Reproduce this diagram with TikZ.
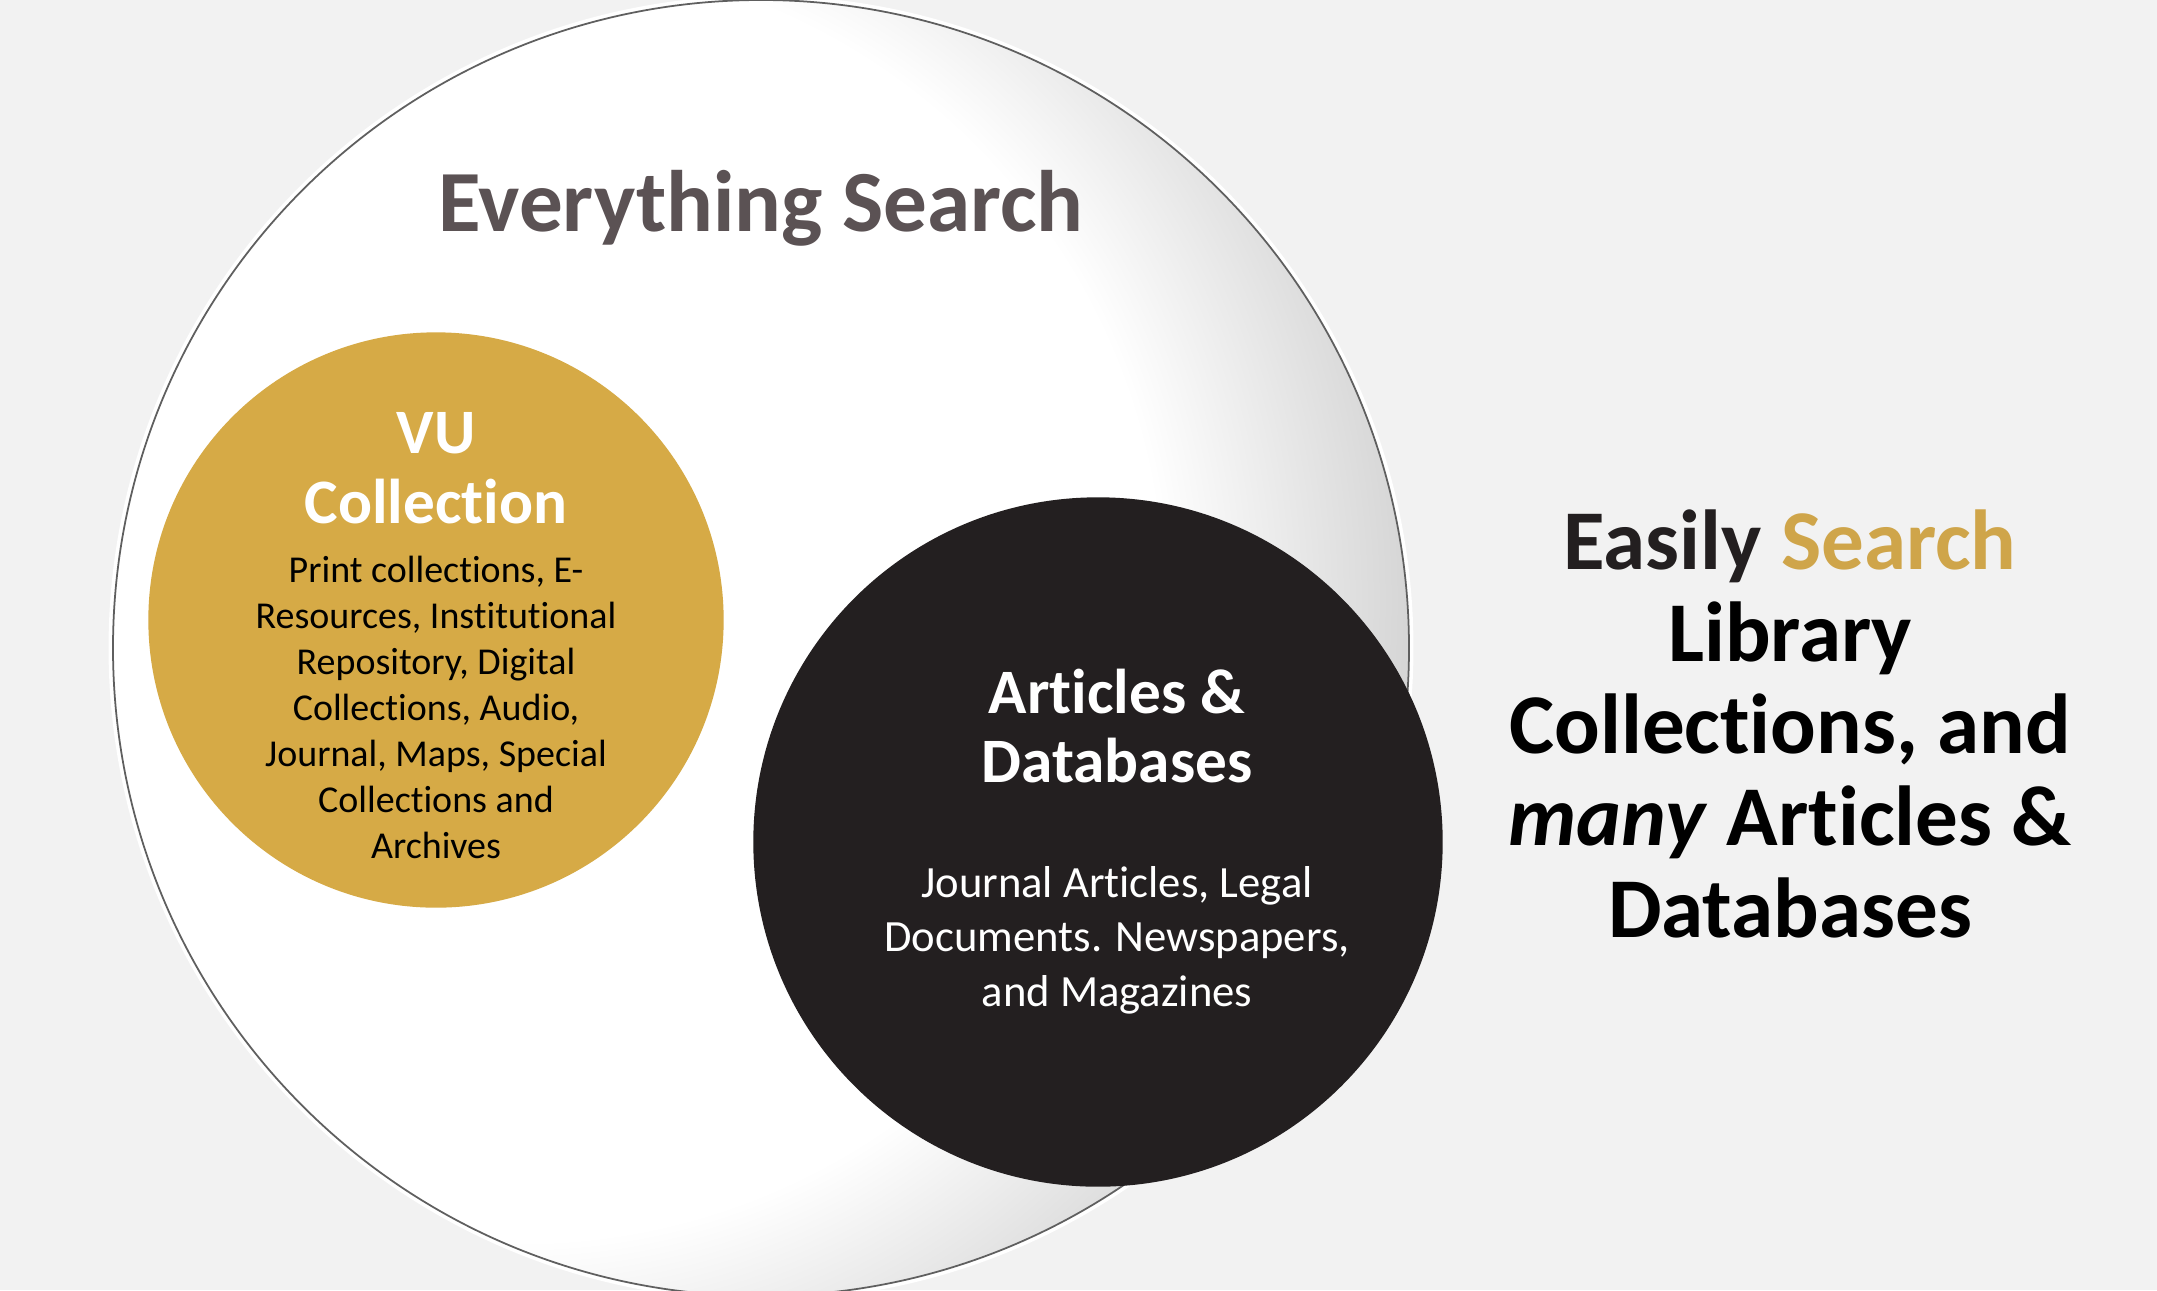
\documentclass[tikz,border=0pt]{standalone}
\usepackage{fontspec}
\setmainfont{Carlito}[Ligatures={NoCommon,NoRare,NoDiscretionary}]
\usetikzlibrary{positioning}

\definecolor{bgcol}{HTML}{F2F2F2}
\definecolor{vugold}{HTML}{D6AA46}
\definecolor{searchgold}{HTML}{CFA54A}
\definecolor{inkblack}{HTML}{231F20}
\definecolor{titlegray}{HTML}{5B5254}
\definecolor{ringline}{HTML}{5F5F5F}

\pgfdeclareradialshading{ringglow}{\pgfpoint{0bp}{0bp}}{color(0bp)=(white); color(17.8bp)=(white); color(25bp)=(black!17); color(50bp)=(black!17)}

\begin{document}
\begin{tikzpicture}[
        x=0.01cm, y=-0.01cm,
        % Define styles for the circles and texts
        ball/.style={circle, inner sep=0pt, draw=none},
        vu_ball/.style={ball, fill=vugold, minimum size=5.75cm},
        db_ball/.style={ball, fill=inkblack, minimum size=6.89cm},
        title_txt/.style={inner sep=0pt, text=titlegray, font=\bfseries\fontsize{24.8}{29}\selectfont},
        head_txt/.style={align=center, inner sep=0pt, text=white, font=\bfseries\fontsize{18}{19.8}\selectfont},
        vu_txt/.style={align=center, inner sep=0pt, text=black, font=\fontsize{10.8}{13.1}\selectfont},
        db_txt/.style={align=center, inner sep=0pt, text=white, font=\fontsize{12.7}{15.4}\selectfont},
        side_txt/.style={align=center, inner sep=0pt, text=black, font=\bfseries\fontsize{24.2}{26.2}\selectfont}
    ]

    % background and page size
    \fill[bgcol] (0,0) rectangle (2157,1290);
    \useasboundingbox (0,0) rectangle (2157,1290);

    % === big circle: Everything Search ===
    \fill[white] (761,648) circle (648);
    \begin{scope}
        \clip (761,648) circle (648);
        \shade[shading=ringglow] (520,600) circle (900);
    \end{scope}
    \draw[white, line width=1.4pt] (761,648) circle (650);
    \draw[ringline, line width=0.5pt] (761,648) circle (648);

    \node (title) [title_txt, anchor=base] at (761,231) {Everything Search};

    % === gold circle: VU Collection ===
    \node (vu) [vu_ball] at (436,620) {};
    \node (vu_head) [head_txt] at (436,468) {VU\\Collection};
    \node (vu_body) [vu_txt, below=0.31cm of vu_head] {Print collections, E-\\Resources, Institutional\\Repository, Digital\\Collections, Audio,\\Journal, Maps, Special\\Collections and\\Archives};

    % === black circle: Articles & Databases ===
    \node (db) [db_ball] at (1098,842) {};
    \node (db_head) [head_txt] at (1117,726) {Articles \&\\Databases};
    \node (db_body) [db_txt, below=0.82cm of db_head] {Journal Articles, Legal\\Documents. Newspapers,\\and Magazines};

    % === side text ===
    \node (side) [side_txt] at (1790,724) {{\color{inkblack}Easily} {\color{searchgold}Search}\\Library\\Collections, and\\\textit{many} Articles \&\\Databases};

\end{tikzpicture}
\end{document}
